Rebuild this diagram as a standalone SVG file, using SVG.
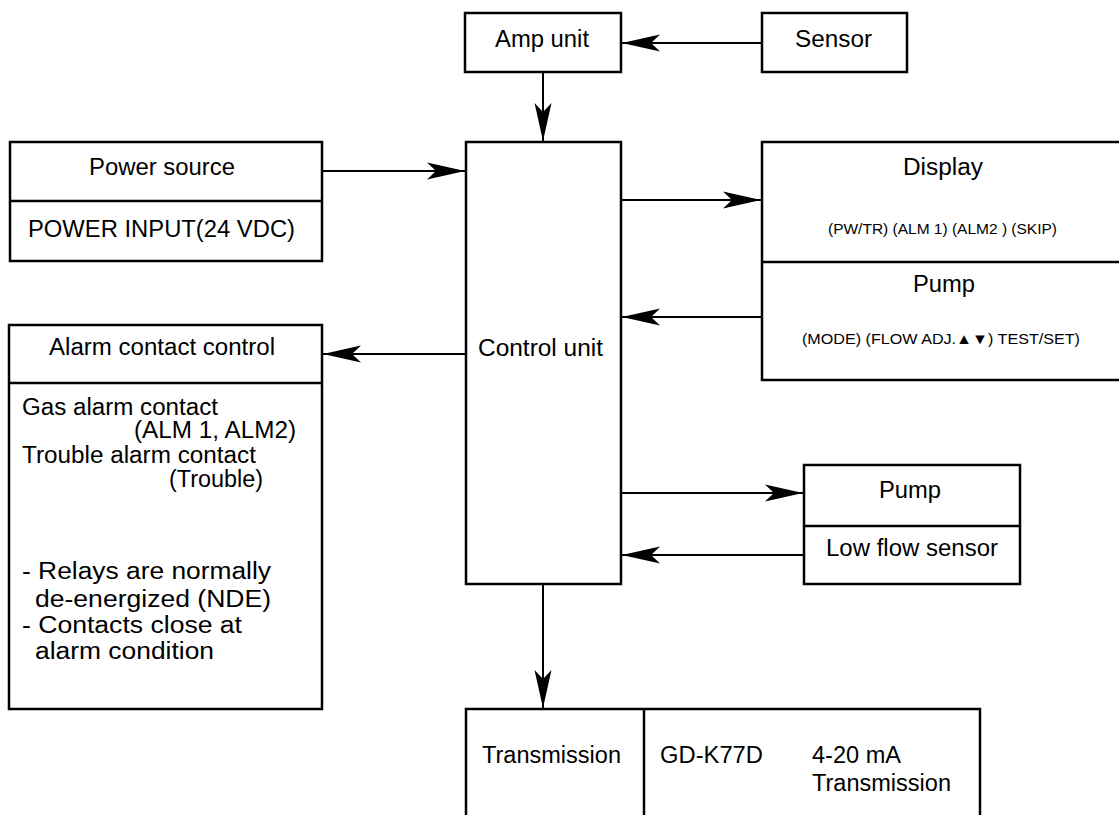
<svg xmlns="http://www.w3.org/2000/svg" width="1119" height="815" viewBox="0 0 1119 815">
<style>
  .box { fill: #fff; stroke: #000; stroke-width: 2.5; }
  .div { stroke: #000; stroke-width: 2.5; fill: none; }
  .conn { stroke: #000; stroke-width: 2; fill: none; marker-end: url(#arr); }
  text { font-family: "Liberation Sans", Arial, sans-serif; font-size: 23px; fill: #000; }
  .sm { font-size: 15px; }
</style>
<defs>
  <marker id="arr" markerUnits="userSpaceOnUse" markerWidth="42" markerHeight="20" viewBox="-40 -10 42 20" refX="0" refY="0" orient="auto">
    <path d="M0,0 L-38,-8.5 L-29,0 L-38,8.5 Z" fill="#000"/>
  </marker>
</defs>
<rect width="1119" height="815" fill="#fff"/>

<g id="amp-unit">
  <rect class="box" x="465" y="13" width="156" height="59"/>
  <text x="495" y="47" textLength="94" lengthAdjust="spacingAndGlyphs">Amp unit</text>
</g>
<g id="sensor">
  <rect class="box" x="762" y="13" width="145" height="59"/>
  <text x="795" y="47" textLength="77" lengthAdjust="spacingAndGlyphs">Sensor</text>
</g>
<g id="power-source">
  <rect class="box" x="10" y="142" width="312" height="119"/>
  <line class="div" x1="10" y1="201" x2="322" y2="201"/>
  <text x="89" y="175" textLength="146" lengthAdjust="spacingAndGlyphs">Power source</text>
  <text x="28" y="237" textLength="267" lengthAdjust="spacingAndGlyphs">POWER INPUT(24 VDC)</text>
</g>
<g id="control-unit">
  <rect class="box" x="466" y="142" width="155" height="442"/>
  <text x="478" y="356" textLength="125" lengthAdjust="spacingAndGlyphs">Control unit</text>
</g>
<g id="display-pump">
  <rect class="box" x="762" y="142" width="360" height="238"/>
  <line class="div" x1="762" y1="262" x2="1122" y2="262"/>
  <text x="903" y="175" textLength="80" lengthAdjust="spacingAndGlyphs">Display</text>
  <text class="sm" x="828" y="234" textLength="229" lengthAdjust="spacingAndGlyphs">(PW/TR) (ALM 1) (ALM2 ) (SKIP)</text>
  <text x="913" y="292" textLength="62" lengthAdjust="spacingAndGlyphs">Pump</text>
  <text class="sm" x="802" y="344" textLength="278" lengthAdjust="spacingAndGlyphs">(MODE) (FLOW ADJ.▲▼) TEST/SET)</text>
</g>
<g id="alarm-contact-control">
  <rect class="box" x="9" y="325" width="313" height="384"/>
  <line class="div" x1="9" y1="383" x2="322" y2="383"/>
  <text x="49" y="355" textLength="226" lengthAdjust="spacingAndGlyphs">Alarm contact control</text>
  <text x="22" y="415" textLength="196" lengthAdjust="spacingAndGlyphs">Gas alarm contact</text>
  <text x="134" y="438" textLength="162" lengthAdjust="spacingAndGlyphs">(ALM 1, ALM2)</text>
  <text x="22" y="463" textLength="234" lengthAdjust="spacingAndGlyphs">Trouble alarm contact</text>
  <text x="169" y="487" textLength="94" lengthAdjust="spacingAndGlyphs">(Trouble)</text>
  <text x="22" y="579" textLength="249" lengthAdjust="spacingAndGlyphs">- Relays are normally</text>
  <text x="35" y="607" textLength="236" lengthAdjust="spacingAndGlyphs">de-energized (NDE)</text>
  <text x="22" y="633" textLength="220" lengthAdjust="spacingAndGlyphs">- Contacts close at</text>
  <text x="35" y="659" textLength="179" lengthAdjust="spacingAndGlyphs">alarm condition</text>
</g>
<g id="pump-lowflow">
  <rect class="box" x="804" y="465" width="216" height="119"/>
  <line class="div" x1="804" y1="526" x2="1020" y2="526"/>
  <text x="879" y="498" textLength="62" lengthAdjust="spacingAndGlyphs">Pump</text>
  <text x="826" y="556" textLength="172" lengthAdjust="spacingAndGlyphs">Low flow sensor</text>
</g>
<g id="transmission">
  <rect class="box" x="466" y="709" width="514" height="120"/>
  <line class="div" x1="644" y1="709" x2="644" y2="829"/>
  <text x="482" y="763" textLength="139" lengthAdjust="spacingAndGlyphs">Transmission</text>
  <text x="660" y="763" textLength="103" lengthAdjust="spacingAndGlyphs">GD-K77D</text>
  <text x="812" y="763" textLength="89" lengthAdjust="spacingAndGlyphs">4-20 mA</text>
  <text x="812" y="791" textLength="139" lengthAdjust="spacingAndGlyphs">Transmission</text>
</g>

<g id="connectors">
  <line class="conn" x1="762" y1="43" x2="622" y2="43"/>
  <line class="conn" x1="543" y1="72" x2="543" y2="141"/>
  <line class="conn" x1="322" y1="171" x2="465" y2="171"/>
  <line class="conn" x1="621" y1="200" x2="761" y2="200"/>
  <line class="conn" x1="762" y1="317" x2="622" y2="317"/>
  <line class="conn" x1="466" y1="354" x2="323" y2="354"/>
  <line class="conn" x1="621" y1="493" x2="803" y2="493"/>
  <line class="conn" x1="804" y1="555" x2="622" y2="555"/>
  <line class="conn" x1="543" y1="584" x2="543" y2="708"/>
</g>
</svg>
